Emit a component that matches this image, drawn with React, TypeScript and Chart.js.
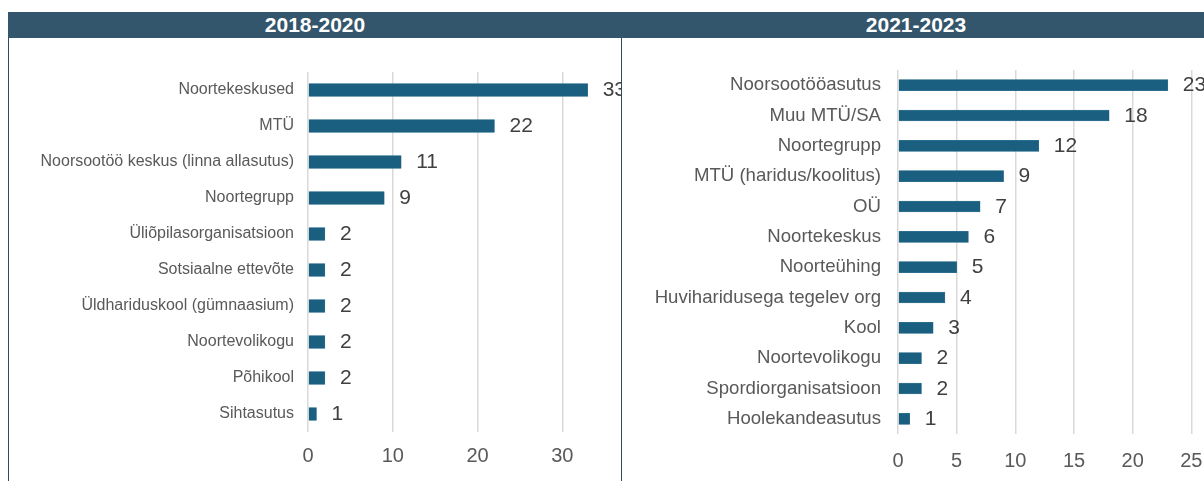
import React, { useEffect, useRef } from "react";
import { Chart, registerables } from "chart.js";

Chart.register(...registerables);

const FONT = "'Liberation Sans', Arial, Helvetica, sans-serif";
Chart.defaults.font.family = FONT;

const periods = ["2018-2020", "2021-2023"];

const leftCategories = [
  "Noortekeskused",
  "MTÜ",
  "Noorsootöö keskus (linna allasutus)",
  "Noortegrupp",
  "Üliõpilasorganisatsioon",
  "Sotsiaalne ettevõte",
  "Üldhariduskool (gümnaasium)",
  "Noortevolikogu",
  "Põhikool",
  "Sihtasutus",
];
const leftValues = [33, 22, 11, 9, 2, 2, 2, 2, 2, 1];

const rightCategories = [
  "Noorsootööasutus",
  "Muu MTÜ/SA",
  "Noortegrupp",
  "MTÜ (haridus/koolitus)",
  "OÜ",
  "Noortekeskus",
  "Noorteühing",
  "Huviharidusega tegelev org",
  "Kool",
  "Noortevolikogu",
  "Spordiorganisatsioon",
  "Hoolekandeasutus",
];
const rightValues = [23, 18, 12, 9, 7, 6, 5, 4, 3, 2, 2, 1];

const leftMax = 40;
const leftStep = 10;
const rightMax = 30;
const rightStep = 5;

type PanelProps = {
  categories: string[];
  values: number[];
  max: number;
  step: number;
  canvasW: number;
  canvasH: number;
  plotLeft: number;
  plotRight: number;
  plotTop: number;
  plotBottom: number;
  labelFont: number;
  labelPad: number;
  tickPad: number;
  barThickness: number;
};

function BarPanel(p: PanelProps) {
  const ref = useRef<HTMLCanvasElement>(null);
  useEffect(() => {
    const valueLabels = {
      id: "valueLabels",
      afterDatasetsDraw(chart: any) {
        const ctx = chart.ctx;
        const meta = chart.getDatasetMeta(0);
        ctx.save();
        ctx.font = `21px ${FONT}`;
        ctx.fillStyle = "#404040";
        ctx.textBaseline = "middle";
        ctx.textAlign = "left";
        meta.data.forEach((el: any, i: number) => {
          ctx.fillText(String(p.values[i]), el.x + 15, el.y + 0.5);
        });
        ctx.restore();
      },
    };
    const chart = new Chart(ref.current as HTMLCanvasElement, {
      type: "bar",
      data: {
        labels: p.categories,
        datasets: [
          {
            data: p.values,
            backgroundColor: "#1a5f80",
            borderColor: "#3f7d9b",
            borderWidth: 0.5,
            barThickness: p.barThickness,
          },
        ],
      },
      options: {
        indexAxis: "y",
        responsive: false,
        animation: false,
        layout: {
          padding: { left: 0, top: p.plotTop, bottom: 0, right: p.canvasW - p.plotRight },
        },
        plugins: { legend: { display: false }, tooltip: { enabled: false } },
        scales: {
          x: {
            min: 0,
            max: p.max,
            ticks: { stepSize: p.step, font: { size: 20 }, color: "#595959", padding: p.tickPad },
            grid: { color: "#d9d9d9", lineWidth: 1.5, drawTicks: false },
            border: { display: false },
            afterFit: (s: any) => {
              s.height = p.canvasH - p.plotBottom;
            },
          },
          y: {
            ticks: { font: { size: p.labelFont }, color: "#595959", padding: p.labelPad, autoSkip: false },
            grid: { display: false, drawTicks: false },
            border: { display: false },
            afterFit: (s: any) => {
              s.width = p.plotLeft;
            },
          },
        },
      } as any,
      plugins: [valueLabels],
    });
    return () => chart.destroy();
  }, []);
  return (
    <canvas
      ref={ref}
      width={p.canvasW}
      height={p.canvasH}
      style={{ display: "block", width: p.canvasW, height: p.canvasH }}
    />
  );
}

export default function App() {
  const headerText: React.CSSProperties = {
    position: "absolute",
    top: 12,
    height: 26,
    lineHeight: "26px",
    textAlign: "center",
    color: "#ffffff",
    fontWeight: "bold",
    fontSize: 21,
    fontFamily: FONT,
  };
  return (
    <div style={{ position: "fixed", left: 0, top: 0, width: 1204, height: 481, overflow: "hidden", background: "#fff" }}>
      <div style={{ position: "absolute", left: 8, top: 12, width: 1196, height: 26, background: "#34566c" }} />
      <div style={{ ...headerText, left: 8, width: 614 }}>{periods[0]}</div>
      <div style={{ ...headerText, left: 622, width: 588 }}>{periods[1]}</div>
      <div style={{ position: "absolute", left: 8, top: 38, width: 1, height: 443, background: "#2a4d65" }} />
      <div style={{ position: "absolute", left: 621, top: 38, width: 1, height: 443, background: "#2a4d65" }} />
      <div style={{ position: "absolute", left: 9, top: 38, width: 612, height: 443, overflow: "hidden" }}>
        <BarPanel
          categories={leftCategories}
          values={leftValues}
          max={leftMax}
          step={leftStep}
          canvasW={720}
          canvasH={443}
          plotLeft={299}
          plotRight={638}
          plotTop={34}
          plotBottom={394}
          labelFont={16}
          labelPad={14}
          tickPad={12}
          barThickness={13}
        />
      </div>
      <div style={{ position: "absolute", left: 622, top: 38, width: 582, height: 443, overflow: "hidden" }}>
        <BarPanel
          categories={rightCategories}
          values={rightValues}
          max={rightMax}
          step={rightStep}
          canvasW={700}
          canvasH={443}
          plotLeft={276}
          plotRight={628}
          plotTop={32}
          plotBottom={396}
          labelFont={18.6}
          labelPad={17}
          tickPad={15}
          barThickness={11}
        />
      </div>
    </div>
  );
}
